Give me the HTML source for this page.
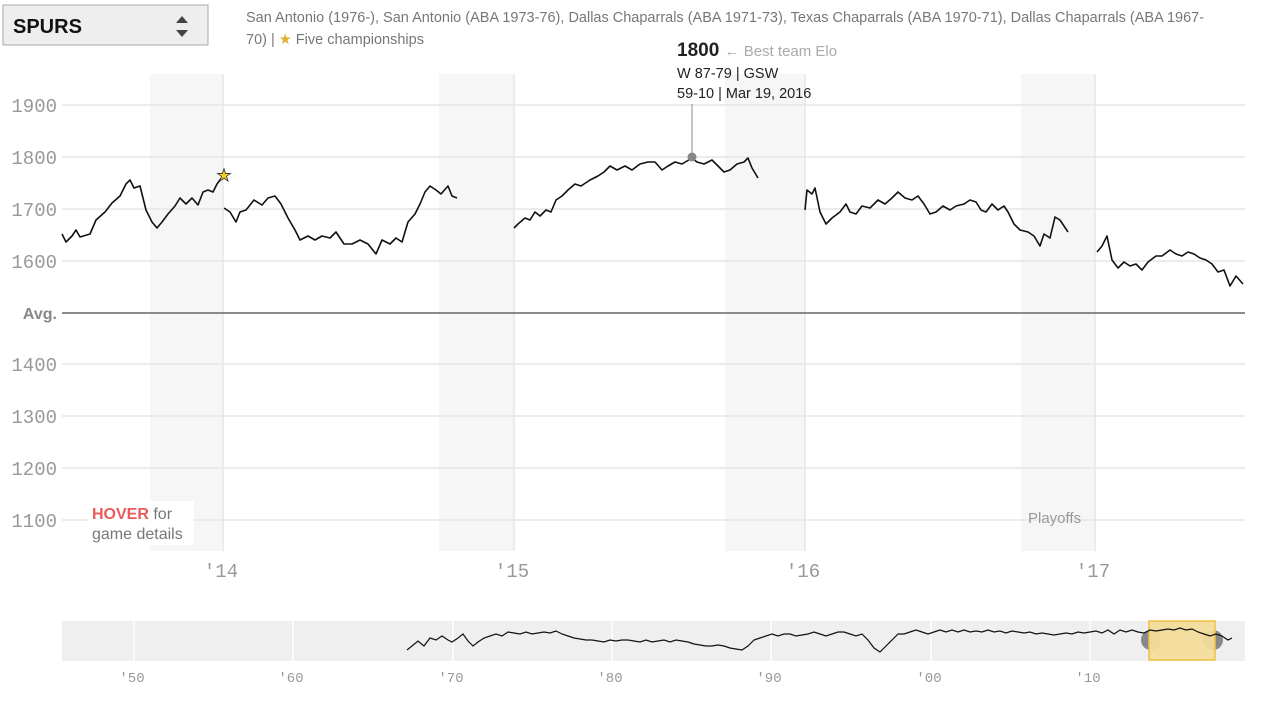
<!DOCTYPE html>
<html><head><meta charset="utf-8"><style>
body{margin:0;background:#fff;width:1284px;height:696px;overflow:hidden;font-family:"Liberation Sans",sans-serif}
</style></head><body>
<svg width="1284" height="696" xmlns="http://www.w3.org/2000/svg" font-family="Liberation Sans, sans-serif">
<rect x="3" y="5" width="205" height="40" fill="#eee" stroke="#aaa"/>
<text x="13" y="33" font-size="20" font-weight="bold" fill="#111">SPURS</text>
<path d="M182 16 L188 23 L176 23Z M182 37 L188 30 L176 30Z" fill="#444"/>
<text x="246" y="22" font-size="14.5" fill="#777">San Antonio (1976-), San Antonio (ABA 1973-76), Dallas Chaparrals (ABA 1971-73), Texas Chaparrals (ABA 1970-71), Dallas Chaparrals (ABA 1967-</text>
<text x="246" y="44" font-size="14.5" fill="#777">70) | <tspan fill="#e0b030">★</tspan> Five championships</text>
<g fill="#f6f6f6">
<rect x="150" y="74" width="73" height="477"/><rect x="439" y="74" width="75" height="477"/>
<rect x="725" y="74" width="80" height="477"/><rect x="1021" y="74" width="74" height="477"/></g>
<g stroke="#e6e6e6" stroke-width="1.5">
<line x1="62" x2="1245" y1="105" y2="105"/><line x1="62" x2="1245" y1="157" y2="157"/>
<line x1="62" x2="1245" y1="209" y2="209"/><line x1="62" x2="1245" y1="261" y2="261"/>
<line x1="62" x2="1245" y1="364" y2="364"/><line x1="62" x2="1245" y1="416" y2="416"/>
<line x1="62" x2="1245" y1="468" y2="468"/><line x1="62" x2="1245" y1="520" y2="520"/>
<line x1="223" x2="223" y1="74" y2="551"/><line x1="514" x2="514" y1="74" y2="551"/>
<line x1="805" x2="805" y1="74" y2="551"/><line x1="1095" x2="1095" y1="74" y2="551"/></g>
<line x1="62" x2="1245" y1="313" y2="313" stroke="#666" stroke-width="1.5"/>
<g font-family="Liberation Mono, monospace" font-size="19" fill="#999" text-anchor="end">
<text x="57" y="112">1900</text><text x="57" y="164">1800</text><text x="57" y="216">1700</text><text x="57" y="268">1600</text>
<text x="57" y="371">1400</text><text x="57" y="423">1300</text><text x="57" y="475">1200</text><text x="57" y="527">1100</text></g>
<text x="57" y="319" font-size="16" font-weight="bold" fill="#888" text-anchor="end">Avg.</text>
<g font-family="Liberation Mono, monospace" font-size="19" fill="#999" text-anchor="middle">
<text x="221" y="577">'14</text><text x="512" y="577">'15</text><text x="803" y="577">'16</text><text x="1093" y="577">'17</text></g>
<rect x="88" y="501" width="106" height="44" fill="#fff"/>
<text x="92" y="519" font-size="16" fill="#777"><tspan fill="#ea5a5a" font-weight="bold">HOVER</tspan> for</text>
<text x="92" y="539" font-size="16" fill="#777">game details</text>
<text x="1028" y="523" font-size="15" fill="#999">Playoffs</text>
<g fill="none" stroke="#111" stroke-width="1.6" stroke-linejoin="round">
<polyline points="62,234 66,242 72,236 76,230 80,237 90,234 96,220 105,212 112,203 120,196 126,184 130,180 134,188 140,186 146,210 152,222 157,228 162,222 168,214 175,206 180,198 186,204 192,198 198,205 203,192 208,190 213,192 217,184 223,176"/>
<polyline points="224,208 230,212 236,222 240,212 246,210 254,200 262,205 268,198 275,196 281,204 288,218 295,230 300,240 308,236 315,240 322,236 330,238 336,232 344,244 352,244 360,240 368,244 376,254 382,240 390,244 396,238 402,242 408,222 415,214 420,204 425,192 430,186 436,190 441,194 448,186 452,196 457,198"/>
<polyline points="514,228 518,224 525,218 530,220 535,212 540,216 546,210 551,212 556,200 562,196 568,190 575,184 581,186 590,180 598,176 604,172 610,166 617,170 625,166 632,170 640,164 648,162 655,162 662,170 668,166 675,162 682,164 692,158 697,162 704,164 712,160 718,166 724,172 730,170 737,164 744,162 748,158 752,168 758,178"/>
<polyline points="805,210 807,190 812,194 815,188 820,212 826,224 832,218 840,212 846,204 850,212 856,214 862,206 870,208 878,200 885,204 892,198 898,192 905,198 912,200 918,196 924,204 930,214 936,212 943,206 950,210 956,206 964,204 970,200 976,202 981,210 986,212 992,204 998,210 1004,206 1008,212 1014,224 1020,230 1028,232 1034,236 1040,246 1044,234 1050,238 1055,217 1060,220 1068,232"/>
<polyline points="1097,252 1102,246 1107,236 1112,260 1118,268 1124,262 1130,266 1136,264 1142,270 1148,262 1156,256 1162,256 1170,250 1176,254 1182,256 1188,252 1194,254 1200,258 1206,260 1212,264 1218,272 1224,270 1230,286 1236,276 1243,284"/>
</g>
<text x="224" y="181" font-size="17" fill="#f5d020" stroke="#333" stroke-width="0.8" text-anchor="middle">★</text>
<line x1="692" x2="692" y1="104" y2="155" stroke="#888"/>
<circle cx="692" cy="157" r="4.5" fill="#888"/>
<text x="677" y="56" font-size="19" font-weight="bold" fill="#222">1800 <tspan font-size="15" font-weight="normal" fill="#aaa">← Best team Elo</tspan></text>
<text x="677" y="78" font-size="14.5" fill="#222">W 87-79 | GSW</text>
<text x="677" y="98" font-size="14.5" fill="#222">59-10 | Mar 19, 2016</text>
<rect x="62" y="621" width="1183" height="40" fill="#efefef"/>
<g stroke="#fff" stroke-width="1.5">
<line x1="134" x2="134" y1="621" y2="661"/><line x1="293" x2="293" y1="621" y2="661"/><line x1="453" x2="453" y1="621" y2="661"/>
<line x1="612" x2="612" y1="621" y2="661"/><line x1="771" x2="771" y1="621" y2="661"/><line x1="931" x2="931" y1="621" y2="661"/><line x1="1090" x2="1090" y1="621" y2="661"/></g>
<circle cx="1151" cy="640" r="10" fill="#888"/><circle cx="1213" cy="640" r="10" fill="#888"/>
<rect x="1149" y="621" width="66" height="39" fill="#f2db9a" stroke="#f0c040" stroke-width="1.5" fill-opacity="0.95"/>
<polyline fill="none" stroke="#111" stroke-width="1.2" points="407,650 412,646 418,641 424,646 430,638 436,640 442,636 448,640 452,642 458,638 463,634 468,641 473,646 478,642 484,638 490,636 496,634 502,636 508,632 514,633 520,634 526,632 532,634 538,633 544,632 550,633 556,631 562,634 568,636 574,638 580,639 586,640 592,640 598,641 604,642 610,640 616,641 622,640 628,640 634,641 640,642 646,640 652,642 658,641 664,640 670,642 676,640 682,641 688,642 694,644 700,645 706,646 712,646 718,645 724,646 730,648 736,649 742,650 748,646 754,640 760,638 766,636 772,634 778,636 784,634 790,634 796,636 802,635 808,634 814,632 820,634 826,636 832,634 838,632 844,632 850,634 856,636 862,634 868,640 874,648 880,652 886,646 892,640 898,634 904,634 910,632 916,630 922,632 928,634 934,632 940,630 946,632 952,630 958,632 964,630 970,632 976,631 982,632 988,630 994,632 1000,631 1006,633 1012,631 1018,632 1024,633 1030,632 1036,634 1042,633 1048,634 1054,635 1060,634 1066,633 1072,634 1078,632 1084,633 1090,632 1096,631 1102,633 1108,630 1114,634 1120,630 1126,632 1132,630 1138,632 1144,633 1150,630 1156,631 1162,630 1168,629 1174,630 1180,628 1186,630 1192,629 1198,632 1204,634 1210,636 1216,634 1222,636 1228,640 1232,638"/>
<g font-family="Liberation Mono, monospace" font-size="14" fill="#999" text-anchor="middle">
<text x="132" y="682">'50</text><text x="291" y="682">'60</text><text x="451" y="682">'70</text><text x="610" y="682">'80</text>
<text x="769" y="682">'90</text><text x="929" y="682">'00</text><text x="1088" y="682">'10</text></g>
</svg>
</body></html>
